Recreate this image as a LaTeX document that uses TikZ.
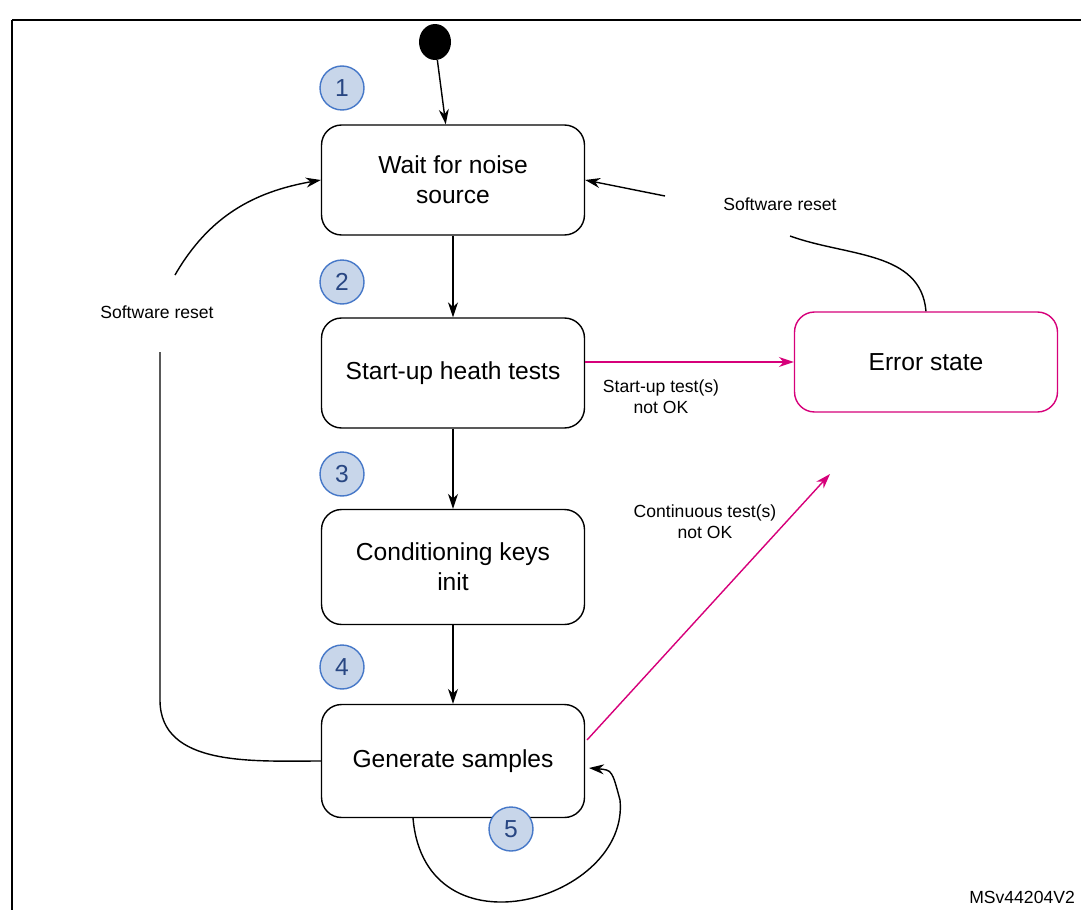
\documentclass[tikz,border=0pt]{standalone}
\usepackage{fontspec}
\setmainfont{Liberation Sans}
\usetikzlibrary{positioning, arrows.meta, shapes.geometric}
\definecolor{errpink}{RGB}{214,0,122}
\definecolor{stepfill}{RGB}{200,214,234}
\definecolor{stepdraw}{RGB}{70,120,200}
\definecolor{steptext}{RGB}{40,70,130}
\begin{document}
\begin{tikzpicture}
    [
        x=0.02cm, y=-0.02cm,
        state_node/.style={rectangle, rounded corners=4mm, draw=black, thick, minimum width=5.26cm, minimum height=2.2cm, align=center, font=\fontsize{14}{17}\selectfont},
        err_node/.style={state_node, draw=errpink},
        step_node/.style={circle, draw=stepdraw, fill=stepfill, thick, minimum size=0.88cm, inner sep=0pt, text=steptext, font=\fontsize{14}{17}\selectfont},
        small_label/.style={align=center, font=\fontsize{10}{12}\selectfont},
        flow/.style={-{Stealth[length=3mm, width=2mm]}, thick},
        err_flow/.style={flow, draw=errpink},
    ]
        \useasboundingbox (0,0) rectangle (1081,909);
        \draw[thick] (12,20) -- (12,915) (12,20) -- (1090,20);
        \node[ellipse, fill=black, minimum width=0.64cm, minimum height=0.72cm, inner sep=0pt] (start) at (435,42) {};
        \node[state_node] (wait) at (453,180) {Wait for noise\\source};
        \node[state_node] (startup) at (453,373) {Start-up heath tests};
        \node[state_node, minimum height=2.3cm] (cond) at (453,567) {Conditioning keys\\init};
        \node[state_node, minimum height=2.26cm] (gen) at (453,761) {Generate samples};
        \node[err_node, minimum height=2cm] (err) at (926,362) {Error state};
        \node[step_node] (n1) at (342,88) {1};
        \node[step_node] (n2) at (342,282) {2};
        \node[step_node] (n3) at (342,474) {3};
        \node[step_node] (n4) at (342,667) {4};
        \node[step_node] (n5) at (511,829) {5};
        \node[small_label] (reset_r) at (780,204) {Software reset};
        \node[small_label] (reset_l) at (157,312) {Software reset};
        \node[small_label] (up_fail) at (661,397) {Start-up test(s)\\not OK};
        \node[small_label] (cont_fail) at (705,522) {Continuous test(s)\\not OK};
        \node[font=\fontsize{10}{12}\selectfont, anchor=east] (ref) at (1081,897) {MSv44204V2};
        \coordinate (r_end) at (790,236);
        \coordinate (r_start) at (665,196);
        \coordinate (l_end) at (160,352);
        \coordinate (l_start) at (175,275);
        \coordinate (cont_start) at (587,740);
        \coordinate (cont_end) at (830,474);
        \draw[flow] (start) -- (wait);
        \draw[flow] (wait) -- (startup);
        \draw[flow] (startup) -- (cond);
        \draw[flow] (cond) -- (gen);
        \draw[err_flow] (startup.east |- err.west) -- (err.west);
        \draw[err_flow] (cont_start) -- (cont_end);
        \draw[thick] (err.north) to[out=95, in=-20] (r_end);
        \draw[flow] (r_start) -- (wait.east);
        \draw[thick] (gen.west) to[out=180, in=270] (160,700) -- (l_end);
        \draw[flow] (l_start) to[out=60, in=190] (wait.west);
        \draw[flow] (413,818) .. controls (425,960) and (630,900) .. (620,800) .. controls (612,770) .. (589,768);
\end{tikzpicture}
\end{document}
